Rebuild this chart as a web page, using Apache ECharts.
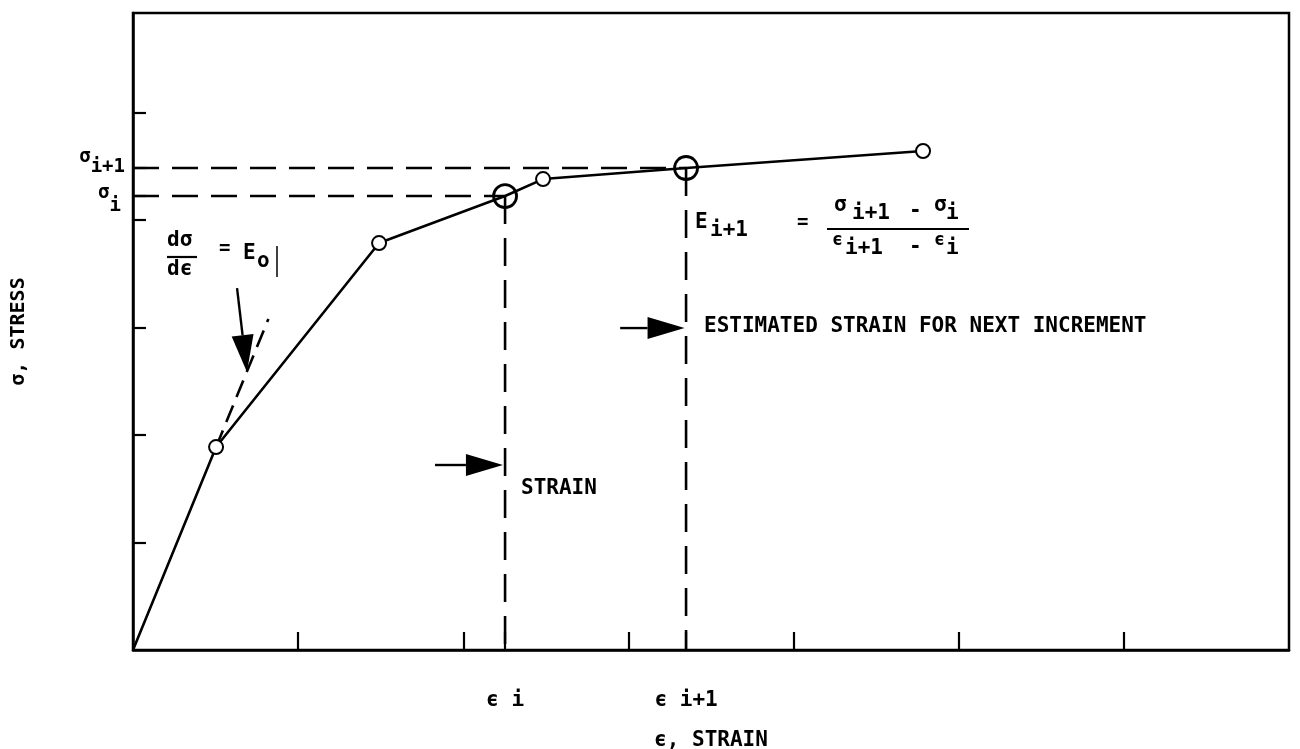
<!DOCTYPE html>
<html>
<head>
<meta charset="utf-8">
<script src="https://cdn.jsdelivr.net/npm/echarts@6/dist/echarts.min.js"></script>
<style>
html,body{margin:0;padding:0;background:#fff;}
#chart{width:1300px;height:749px;}
</style>
</head>
<body>
<div id="chart"></div>
<script>
// ---- data ----
const strain = [0, 0.503, 1.49, 2.253, 2.483, 3.349, 4.784];
const stress = [0, 1.888, 3.786, 4.223, 4.381, 4.484, 4.642];
const bigPoint = [false, false, false, true, false, true, false];
const epsI = 2.253, epsI1 = 3.349;
const sigI = 4.223, sigI1 = 4.484;
const xTicks = [1, 2, epsI, 3, epsI1, 4, 5, 6];
const yTicks = [1, 2, 3, 4, sigI, sigI1, 5];
const tangent = [[0.503, 1.888], [0.82, 3.08]];
// arrows: [x1, y1, x2, y2] (tail -> tip)
const arrows = [
  [0.63, 3.367, 0.69, 2.586],
  [1.829, 1.721, 2.24, 1.721],
  [2.95, 2.995, 3.34, 2.995]
];

const FONT = 'DejaVu Sans Mono';
const TF = 'bold 21px ' + FONT;
const chart = echarts.init(document.getElementById('chart'));

const curveData = strain.map((x, i) => ({
  value: [x, stress[i]],
  symbol: i === 0 ? 'none' : 'circle',
  symbolSize: bigPoint[i] ? 23 : 14,
  itemStyle: bigPoint[i]
    ? {color: 'rgba(0,0,0,0)', borderColor: '#000', borderWidth: 2.8}
    : {color: '#fff', borderColor: '#000', borderWidth: 2}
}));

const dashStyle = {color: '#000', width: 2.6, type: [26, 13]};
function dashSeries(pts, style) {
  return {type: 'line', data: pts, symbol: 'none', silent: true,
          lineStyle: style || dashStyle, z: 1, animation: false};
}

const base = {fontFamily: FONT, fontWeight: 'bold', fontSize: 19, color: '#000', lineHeight: 18};
const richUp = {   // sigma raised, subscript near tick
  g: Object.assign({}, base, {verticalAlign: 'bottom', padding: [0, 0, 10, 0]}),
  s: Object.assign({}, base, {verticalAlign: 'bottom'})
};
const richDown = { // sigma at tick, subscript lowered
  g: Object.assign({}, base, {verticalAlign: 'top'}),
  s: Object.assign({}, base, {verticalAlign: 'top', padding: [13, 0, 0, 0]})
};

const option = {
  animation: false,
  backgroundColor: '#fff',
  grid: {left: 133, right: 11, top: 13, bottom: 99, show: true, containLabel: false,
         outerBoundsMode: 'none',
         borderColor: '#000', borderWidth: 2.5, backgroundColor: 'transparent'},
  xAxis: {
    type: 'value', min: 0, max: 7, interval: 1,
    axisLine: {show: true, onZero: false, lineStyle: {color: '#000', width: 2.5}},
    axisTick: {show: true, inside: true, length: 18, customValues: xTicks,
               lineStyle: {color: '#000', width: 2.2}},
    axisLabel: {show: true, customValues: [epsI, epsI1], margin: 40, hideOverlap: false,
      fontFamily: FONT, fontWeight: 'bold', fontSize: 21, color: '#000',
      formatter: v => Math.abs(v - epsI) < 0.01 ? 'ϵ i' : 'ϵ i+1'},
    splitLine: {show: false},
    name: 'ϵ, STRAIN', nameLocation: 'middle', nameGap: 80,
    nameTextStyle: {fontFamily: FONT, fontWeight: 'bold', fontSize: 21, color: '#000'}
  },
  yAxis: [{
    type: 'value', min: 0, max: 5.926,
    axisLine: {show: true, onZero: false, lineStyle: {color: '#000', width: 2.5}},
    axisTick: {show: true, inside: true, length: 13, customValues: yTicks,
               lineStyle: {color: '#000', width: 2.2}},
    axisLabel: {show: true, customValues: [sigI1], margin: 8, hideOverlap: false,
      formatter: () => '{g|σ}{s|i+1}', rich: richUp},
    splitLine: {show: false},
    name: 'σ, STRESS', nameLocation: 'middle', nameGap: 104, nameRotate: 90,
    nameTextStyle: {fontFamily: FONT, fontWeight: 'bold', fontSize: 20, color: '#000'}
  }, {
    type: 'value', min: 0, max: 5.926, position: 'left', offset: 0,
    axisLine: {show: false}, axisTick: {show: false}, splitLine: {show: false},
    axisLabel: {show: true, customValues: [sigI], margin: 12, hideOverlap: false,
      padding: [0, 0, 6, 0],
      formatter: () => '{g|σ}{s|i}', rich: richDown}
  }],
  series: [
    dashSeries([[0, sigI], [epsI, sigI]]),
    dashSeries([[0, sigI1], [epsI1, sigI1]]),
    dashSeries([[epsI, sigI], [epsI, 0]], {color: '#000', width: 2.6, type: [28, 14]}),
    dashSeries([[epsI1, sigI1], [epsI1, 0]], {color: '#000', width: 2.6, type: [28, 14]}),
    dashSeries(tangent, {color: '#000', width: 2.6, type: [18, 9]}),
    {
      type: 'line', data: curveData, z: 3, animation: false,
      lineStyle: {color: '#000', width: 2.6}
    },
    {
      type: 'custom', data: arrows, z: 4, animation: false,
      encode: {x: [0, 2], y: [1, 3]},
      renderItem: function (params, api) {
        const p1 = api.coord([api.value(0), api.value(1)]);
        const p2 = api.coord([api.value(2), api.value(3)]);
        const dx = p2[0] - p1[0], dy = p2[1] - p1[1];
        const len = Math.sqrt(dx * dx + dy * dy);
        const ux = dx / len, uy = dy / len;
        const L = 37, W = 11;
        const bx = p2[0] - ux * L, by = p2[1] - uy * L;
        return {
          type: 'group',
          children: [
            {type: 'line', shape: {x1: p1[0], y1: p1[1], x2: bx, y2: by},
             style: {stroke: '#000', lineWidth: 2.4}},
            {type: 'polygon', shape: {points: [
              [p2[0], p2[1]],
              [bx - uy * W, by + ux * W],
              [bx + uy * W, by - ux * W]
            ]}, style: {fill: '#000'}}
          ]
        };
      }
    }
  ],
  graphic: [
    {type: 'text', left: 521, top: 478, style: {text: 'STRAIN', font: TF, fill: '#000'}},
    {type: 'text', left: 704, top: 316, style: {text: 'ESTIMATED STRAIN FOR NEXT INCREMENT', font: TF, fill: '#000'}},
    // dsigma/deps = E0
    {type: 'text', left: 167, top: 230, style: {text: 'dσ', font: TF, fill: '#000'}},
    {type: 'line', shape: {x1: 167, y1: 257, x2: 197, y2: 257}, style: {stroke: '#000', lineWidth: 2.2}},
    {type: 'text', left: 167, top: 259, style: {text: 'dϵ', font: TF, fill: '#000'}},
    {type: 'text', left: 219, top: 240, style: {text: '=', font: 'bold 19px ' + FONT, fill: '#000'}},
    {type: 'text', left: 243, top: 243, style: {text: 'E', font: TF, fill: '#000'}},
    {type: 'text', left: 257, top: 251, style: {text: 'o', font: TF, fill: '#000'}},
    {type: 'line', shape: {x1: 277, y1: 246, x2: 277, y2: 277}, style: {stroke: '#000', lineWidth: 1.5}},
    // E_{i+1} formula
    {type: 'text', left: 695, top: 212, style: {text: 'E', font: TF, fill: '#000'}},
    {type: 'text', left: 710, top: 220, style: {text: 'i+1', font: TF, fill: '#000'}},
    {type: 'text', left: 797, top: 214, style: {text: '=', font: 'bold 19px ' + FONT, fill: '#000'}},
    {type: 'text', left: 834, top: 195, style: {text: 'σ', font: TF, fill: '#000'}},
    {type: 'text', left: 852, top: 203, style: {text: 'i+1', font: TF, fill: '#000'}},
    {type: 'text', left: 909, top: 201, style: {text: '-', font: TF, fill: '#000'}},
    {type: 'text', left: 934, top: 195, style: {text: 'σ', font: TF, fill: '#000'}},
    {type: 'text', left: 946, top: 203, style: {text: 'i', font: TF, fill: '#000'}},
    {type: 'line', shape: {x1: 827, y1: 229, x2: 969, y2: 229}, style: {stroke: '#000', lineWidth: 2.2}},
    {type: 'text', left: 832, top: 231, style: {text: 'ϵ', font: 'bold 18px ' + FONT, fill: '#000'}},
    {type: 'text', left: 845, top: 238, style: {text: 'i+1', font: TF, fill: '#000'}},
    {type: 'text', left: 909, top: 237, style: {text: '-', font: TF, fill: '#000'}},
    {type: 'text', left: 934, top: 231, style: {text: 'ϵ', font: 'bold 18px ' + FONT, fill: '#000'}},
    {type: 'text', left: 946, top: 238, style: {text: 'i', font: TF, fill: '#000'}}
  ]
};
chart.setOption(option);
</script>
</body>
</html>
